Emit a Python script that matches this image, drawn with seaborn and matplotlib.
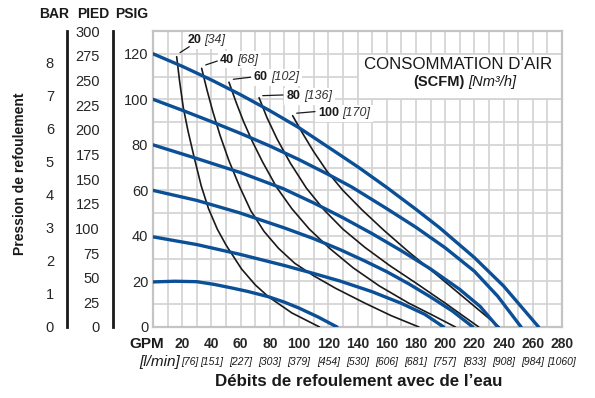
import matplotlib
matplotlib.use("Agg")
import matplotlib.pyplot as plt
import matplotlib.transforms as mtransforms
from matplotlib.patches import Rectangle
import numpy as np
import pandas as pd
import seaborn as sns

# ---------------- data ----------------
# Flow axis (US gallons per minute) and the litre-per-minute equivalents
GPM_TICKS = [20, 40, 60, 80, 100, 120, 140, 160, 180, 200, 220, 240, 260, 280]
LMIN_LABELS = ["[76]", "[151]", "[227]", "[303]", "[379]", "[454]", "[530]",
               "[606]", "[681]", "[757]", "[833]", "[908]", "[984]", "[1060]"]
PSI_TICKS = [0, 20, 40, 60, 80, 100, 120]
BAR_TICKS = [0, 1, 2, 3, 4, 5, 6, 7, 8]
PIED_TICKS = [0, 25, 50, 75, 100, 125, 150, 175, 200, 225, 250, 275, 300]

# Discharge pressure curves at constant air inlet pressure (psi)
AIR_PSI = [120, 100, 80, 60, 40, 20]
P120_GPM = [0, 20, 40, 60, 80, 100, 120, 141, 160, 180, 196, 220, 240, 264]
P120_PSI = [120, 114.5, 108.5, 102, 95, 87.5, 79, 70, 61.3, 51.7, 43.7, 30.5, 18, 0]
P100_GPM = [0, 20, 40, 60, 80, 100, 120, 136, 160, 180, 200, 220, 236, 252]
P100_PSI = [100, 95.2, 90.2, 85, 79.5, 73.5, 67, 61.5, 52, 43.8, 34.8, 24.5, 13.5, 0]
P80_GPM = [0, 30, 60, 89, 110, 130, 150, 170, 190, 210, 224, 236]
P80_PSI = [80, 74, 67.8, 60.8, 54.5, 48, 41, 33.5, 25.5, 16.5, 9, 0]
P60_GPM = [0, 30, 59, 90, 110, 128, 145, 160, 175, 190, 205, 219]
P60_PSI = [60, 55.6, 50.2, 43.5, 38.8, 34, 29, 24.3, 19, 13.2, 7, 0]
P40_GPM = [0, 30, 59, 90, 110, 128, 150, 170, 186, 199]
P40_PSI = [39.6, 36.2, 32, 27, 23.5, 20.2, 15.5, 10.4, 5.6, 0]
P20_GPM = [0, 15, 30, 42, 55, 65, 79, 90, 100, 113, 126]
P20_PSI = [19.8, 20.1, 19.9, 18.7, 17, 15.6, 13.3, 10.9, 8.3, 4.4, 0]

# Air consumption curves (SCFM, with Nm3/h in brackets)
SCFM_VALUES = [20, 40, 60, 80, 100]
NM3H_VALUES = [34, 68, 102, 136, 170]
C20_GPM = [16.2, 18.2, 20.7, 24, 28, 33, 38, 44, 50, 60.6, 70, 79, 95, 114]
C20_PSI = [118.7, 108, 96.5, 86, 75, 62, 52, 43, 36, 25.5, 18.5, 13.3, 6.2, 0]
C40_GPM = [33.3, 37, 41, 46, 52, 59.4, 67, 76, 86, 97, 110, 125, 145, 163, 182]
C40_PSI = [113.6, 104, 94.5, 84, 73, 61.5, 51, 42, 34.5, 28, 22.5, 17, 10.5, 5, 0]
C60_GPM = [52, 57, 62, 68, 75, 84.5, 95, 107, 121, 137, 155, 175, 192, 207]
C60_PSI = [107.5, 98.5, 90.2, 81.5, 72.5, 61.5, 52, 43, 34.5, 26, 18, 10.5, 5, 0]
C80_GPM = [72.6, 78, 85, 94, 105, 117, 130, 145, 162, 180, 200, 223]
C80_PSI = [100.7, 92, 82.5, 72, 61, 51.5, 43, 35, 27, 19.3, 10.5, 0]
C100_GPM = [95.6, 102, 110, 119, 130, 143, 158, 175, 195, 215, 237]
C100_PSI = [92.8, 85.5, 77, 68.5, 60, 51.5, 42.5, 33, 22.5, 11.8, 0]

# label anchors for the air consumption curves: text position and leader line
LABEL_GPM = [23.5, 45.9, 69.1, 91.5, 112.8]
LABEL_PSI = [126.0, 117.3, 109.6, 101.3, 93.8]
LEADER_GPM = [(18.5, 24.8), (36.1, 44.0), (55.0, 66.9), (75.1, 89.0), (98.4, 110.9)]
LEADER_PSI = [(120.5, 123.1), (115.1, 116.8), (108.8, 109.7), (101.6, 101.9), (93.9, 94.6)]

BLUE = "#0b4f96"
INK = "#1a1a1a"
GRID = "#d2d2d2"

# ---------------- style ----------------
sns.set_style("white")
plt.rcParams["font.family"] = ["Liberation Sans", "DejaVu Sans"]
plt.rcParams["text.color"] = INK

W, H = 595, 398
L, R, T, B = 153, 562, 31, 327
fig = plt.figure(figsize=(W / 100, H / 100), dpi=100)
fig.patch.set_facecolor("white")

ymax_psi = 130
ax = fig.add_axes([L / W, 1 - B / H, (R - L) / W, (B - T) / H])
ax.set_xlim(0, 280)
ax.set_ylim(0, ymax_psi)

# grid every 10 units
ax.set_xticks(np.arange(0, 281, 10), minor=True)
ax.set_yticks(np.arange(0, 131, 10), minor=True)
ax.grid(which="both", color=GRID, lw=1.2)
ax.set_axisbelow(True)
for s in ax.spines.values():
    s.set_color("#c4c4c4")
    s.set_linewidth(1.6)

ax.set_xticks(GPM_TICKS)
ax.set_xticklabels([str(v) for v in GPM_TICKS], fontsize=10, fontweight="bold")
ax.set_yticks(PSI_TICKS)
ax.set_yticklabels([str(v) for v in PSI_TICKS], fontsize=10.5)
ax.tick_params(axis="x", which="both", length=0, pad=7.5)
ax.tick_params(axis="y", which="both", length=0, pad=3.5)

# white panel behind the air-consumption caption
ax.add_patch(Rectangle((140, 100), 140, 20, facecolor="white", edgecolor=GRID,
                       lw=1.2, zorder=1.5))
ax.text(208.8, 115.4, "CONSOMMATION D’AIR", ha="center", va="center",
        fontsize=12.2, zorder=6)
t_scfm = ax.text(213, 107.8, "(SCFM)", ha="right", va="center",
                 fontsize=10.5, fontweight="bold", zorder=6)
ax.annotate("[Nm³/h]", xy=(1, 0.5), xycoords=t_scfm, xytext=(3, 0),
            textcoords="offset points", ha="left", va="center",
            fontsize=10.5, fontstyle="italic", zorder=6)

# pressure curves
blue_sets = [(P120_GPM, P120_PSI), (P100_GPM, P100_PSI), (P80_GPM, P80_PSI),
             (P60_GPM, P60_PSI), (P40_GPM, P40_PSI), (P20_GPM, P20_PSI)]
for (gx, py), p in zip(blue_sets, AIR_PSI):
    df = pd.DataFrame({"gpm": gx, "psi": py})
    sns.lineplot(data=df, x="gpm", y="psi", ax=ax, color=BLUE, lw=2.4,
                 sort=False, estimator=None, legend=False, zorder=4)

# air consumption curves
black_sets = [(C20_GPM, C20_PSI), (C40_GPM, C40_PSI), (C60_GPM, C60_PSI),
              (C80_GPM, C80_PSI), (C100_GPM, C100_PSI)]
for (gx, py) in black_sets:
    df = pd.DataFrame({"gpm": gx, "psi": py})
    sns.lineplot(data=df, x="gpm", y="psi", ax=ax, color=INK, lw=1.2,
                 sort=False, estimator=None, legend=False, zorder=3)
ax.set_xlabel("")
ax.set_ylabel("")

box = dict(boxstyle="square,pad=0.2", facecolor="white", edgecolor="none")
for scfm, nm3, lx, ly, (lx0, lx1), (ly0, ly1) in zip(
        SCFM_VALUES, NM3H_VALUES, LABEL_GPM, LABEL_PSI, LEADER_GPM, LEADER_PSI):
    t = ax.text(lx, ly, str(scfm), ha="left", va="center", fontsize=9,
                fontweight="bold", bbox=box, zorder=6)
    ax.annotate(f"[{nm3}]", xy=(1, 0.5), xycoords=t, xytext=(2.5, 0),
                textcoords="offset points", ha="left", va="center",
                fontsize=9, fontstyle="italic", color="#333333",
                bbox=box, zorder=6)
    ax.plot([lx0, lx1], [ly0, ly1], color=INK, lw=0.9, zorder=6)

# GPM tag and litre-per-minute row under the flow ticks
blend = mtransforms.blended_transform_factory(ax.transData, fig.transFigure)
fig.text(147 / W, 1 - 344 / H, "GPM", ha="center", va="center",
         fontsize=11, fontweight="bold")
for g, lab in zip(GPM_TICKS, LMIN_LABELS):
    gx = g if g != 20 else 25.5
    ax.text(gx, 1 - 362 / H, lab, transform=blend, ha="center", va="center",
            fontsize=7.5, fontstyle="italic", clip_on=False)
fig.text(180 / W, 1 - 362 / H, "[l/min]", ha="right", va="center",
         fontsize=11, fontstyle="italic")

fig.text(359 / W, 1 - 382 / H, "Débits de refoulement avec de l’eau",
         ha="center", va="center", fontsize=12.2, fontweight="bold")

# secondary pressure scales: bar and feet of water
def side_scale(xpix, top_value, ticks, labels):
    a = fig.add_axes([xpix / W, 1 - B / H, 0.0001, (B - T) / H])
    a.set_ylim(0, top_value)
    a.set_xticks([])
    a.set_yticks(ticks)
    a.set_yticklabels(labels, fontsize=10.5)
    for side in ("top", "right", "bottom"):
        a.spines[side].set_visible(False)
    a.spines["left"].set_linewidth(2)
    a.spines["left"].set_color(INK)
    a.tick_params(axis="y", direction="out", length=7, width=1.6, pad=2,
                  color=INK)
    a.patch.set_alpha(0)
    return a

side_scale(66.5, ymax_psi / 14.5038, BAR_TICKS, [str(v) for v in BAR_TICKS])
side_scale(112.5, ymax_psi * 2.31, PIED_TICKS, [str(v) for v in PIED_TICKS])

for xp, lab in [(54, "BAR"), (93, "PIED"), (132, "PSIG")]:
    fig.text(xp / W, 1 - 14 / H, lab, ha="center", va="center",
             fontsize=10, fontweight="bold")
fig.text(20 / W, 1 - 174 / H, "Pression de refoulement", rotation=90,
         ha="center", va="center", fontsize=10, fontweight="bold")

fig.savefig("out.png", dpi=100, facecolor="white")
